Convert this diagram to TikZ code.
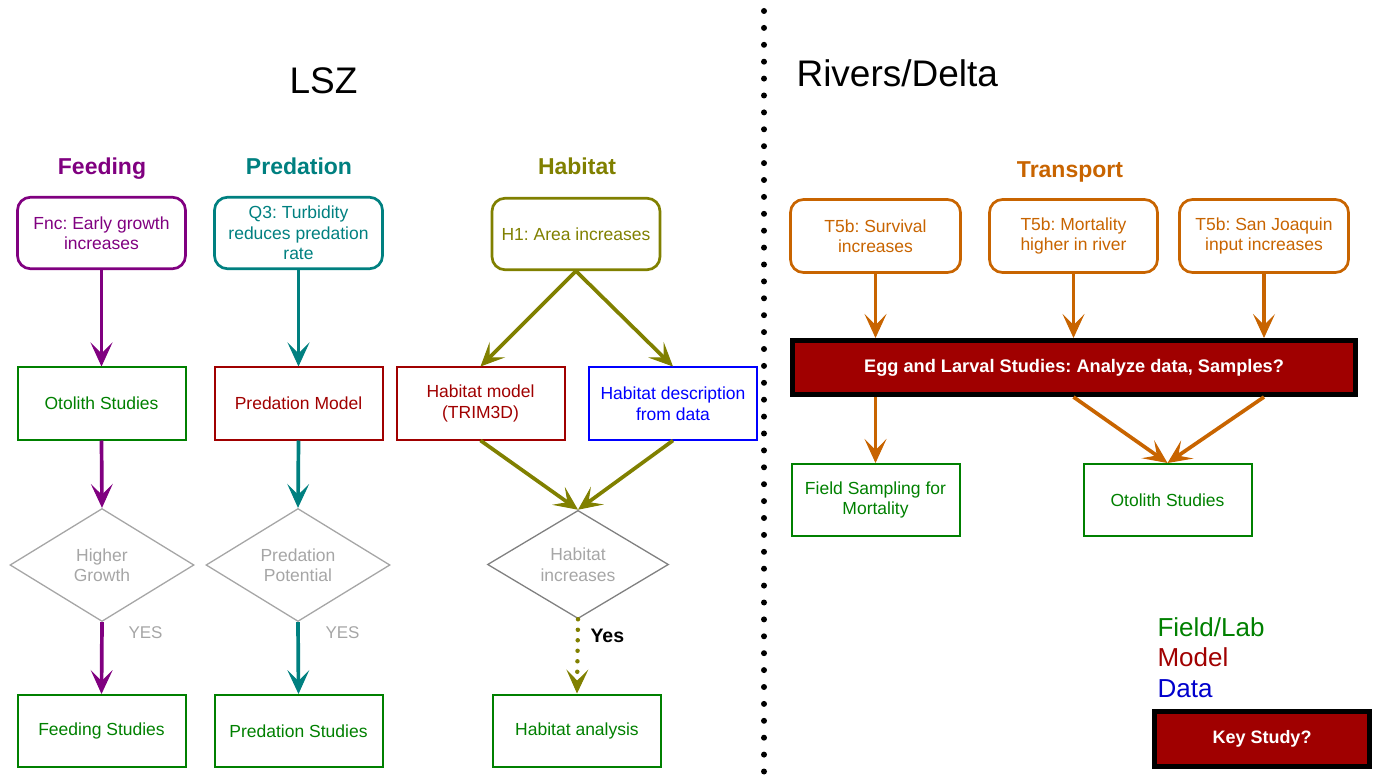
\documentclass[tikz,border=0pt]{standalone}
\usepackage{fontspec}
\setmainfont{Liberation Sans}
\usetikzlibrary{arrows.meta,shapes.geometric}
\frenchspacing

\definecolor{feedc}{RGB}{128,0,128}
\definecolor{predc}{RGB}{0,128,128}
\definecolor{habc}{RGB}{128,128,0}
\definecolor{tranc}{RGB}{200,100,0}
\definecolor{fieldc}{RGB}{0,128,0}
\definecolor{modelc}{RGB}{160,0,0}
\definecolor{datac}{RGB}{0,0,255}
\definecolor{legdata}{RGB}{0,0,204}
\definecolor{keyc}{RGB}{160,0,0}
\definecolor{lgray}{RGB}{166,166,166}
\definecolor{mgray}{RGB}{128,128,128}

\tikzset{
  boxtext/.style={font=\fontsize{17.5}{20.5}\selectfont, align=center},
  question/.style={boxtext, draw=#1, text=#1, line width=2.7pt, rounded corners=13pt,
    minimum width=168pt, minimum height=71.5pt, inner sep=0pt},
  study/.style={boxtext, draw=#1, text=#1, line width=2pt,
    minimum width=168pt, minimum height=72pt, inner sep=0pt},
  decision/.style={boxtext, diamond, draw=#1, line width=1.3pt,
    minimum width=184pt, minimum height=113pt, inner sep=0pt},
  keybox/.style={draw=black, fill=keyc, text=white, line width=5pt, inner sep=0pt},
  flow/.style={line width=3.7pt, draw=#1,
    -{Stealth[length=24pt,width=22pt,inset=11pt,line width=1pt]}},
  heading/.style={font=\bfseries\fontsize{23}{27}\selectfont, anchor=base},
  title/.style={font=\fontsize{37}{44}\selectfont, anchor=base west},
  legend/.style={font=\fontsize{26}{30}\selectfont, anchor=base west},
}

\begin{document}
\begin{tikzpicture}[x=1pt,y=-1pt]
\useasboundingbox (0,0) rectangle (1379,783);

% dotted separator between the two regions
\draw[line width=6pt, line cap=round, dash pattern=on 0pt off 16.9pt] (764,11) -- (764,783);

% titles
\node[title] (lsz) at (286,94) {LSZ};
\node[title] (rivers) at (793,87) {Rivers/Delta};

% ---------------- Feeding ----------------
\node[heading, text=feedc] (feedT) at (102,175) {Feeding};
\node[question=feedc] (fnc) at (101.5,233) {Fnc: Early growth\\increases};
\node[study=fieldc] (oto1) at (101.5,403.5) {Otolith Studies};
\node[decision=lgray, text=lgray] (dia1) at (102,565) {Higher\\Growth};
\node[study=fieldc] (feed) at (101.5,731) {Feeding Studies};
\node[anchor=base west, text=lgray, font=\fontsize{17}{20}\selectfont] (yes1) at (125,638) {YES};
\draw[flow=feedc] (fnc.south) -- (oto1.north);
\draw[flow=feedc] (oto1.south) -- (dia1.north);
\draw[flow=feedc] (dia1.south) -- (feed.north);

% ---------------- Predation ----------------
\node[heading, text=predc] (predT) at (299,175) {Predation};
\node[question=predc] (q3) at (298.5,233) {Q3: Turbidity\\reduces predation\\rate};
\node[study=modelc] (pmod) at (298.5,403.5) {Predation Model};
\node[decision=lgray, text=lgray] (dia2) at (298,565) {Predation\\Potential};
\node[study=fieldc] (pstud) at (298.5,731) {Predation Studies};
\node[anchor=base west, text=lgray, font=\fontsize{17}{20}\selectfont] (yes2) at (322,638) {YES};
\draw[flow=predc] (q3.south) -- (pmod.north);
\draw[flow=predc] (pmod.south) -- (dia2.north);
\draw[flow=predc] (dia2.south) -- (pstud.north);

% ---------------- Habitat ----------------
\node[heading, text=habc] (habT) at (577,175) {Habitat};
\node[question=habc] (h1) at (576,234) {H1: Area increases};
\node[study=modelc] (hmod) at (480.5,403.5) {Habitat model\\(TRIM3D)};
\node[study=datac] (hdesc) at (673,403.5) {Habitat description\\from data};
\node[decision=mgray, text=lgray, minimum width=181pt, minimum height=106pt] (dia3) at (578,564.5) {Habitat\\increases};
\node[study=fieldc] (hana) at (577,730.5) {Habitat analysis};
\node[anchor=base west, font=\bfseries\fontsize{19.5}{23}\selectfont] (yes3) at (587,642) {Yes};
\draw[flow=habc] (h1.south) -- (hmod.north);
\draw[flow=habc] (h1.south) -- (hdesc.north);
\draw[flow=habc] (hmod.south) -- (dia3.north);
\draw[flow=habc] (hdesc.south) -- (dia3.north);
\draw[flow=habc, line width=4.5pt, line cap=round, dash pattern=on 0pt off 10.5pt] (dia3.south) -- (hana.north);

% ---------------- Transport ----------------
\node[heading, text=tranc] (tranT) at (1070,178) {Transport};
\node[question=tranc, minimum width=170pt, minimum height=73pt] (t1) at (875.5,236) {T5b: Survival\\increases};
\node[question=tranc, minimum width=168pt, minimum height=73pt] (t2) at (1073.5,236) {T5b: Mortality\\higher in river};
\node[question=tranc, minimum width=169pt, minimum height=73pt] (t3) at (1264,236) {T5b: San Joaquin\\input increases};
\node[keybox, minimum width=563pt, minimum height=54pt, font=\bfseries\fontsize{18.2}{21}\selectfont] (egg) at (1074,367.5) {Egg and Larval Studies: Analyze data, Samples?};
\node[study=fieldc] (field) at (875.5,500) {Field Sampling for\\Mortality};
\node[study=fieldc] (oto2) at (1167.5,500) {Otolith Studies};
\draw[flow=tranc] (t1.south) -- (t1.south |- egg.north);
\draw[flow=tranc] (t2.south) -- (t2.south |- egg.north);
\draw[flow=tranc] (t3.south) -- (t3.south |- egg.north);
\draw[flow=tranc] (field.north |- egg.south) -- (field.north);
\draw[flow=tranc] (t2.south |- egg.south) -- (oto2.north);
\draw[flow=tranc] (t3.south |- egg.south) -- (oto2.north);

% ---------------- Legend ----------------
\node[legend, text=fieldc] (lfield) at (1154,636) {Field/Lab};
\node[legend, text=modelc] (lmodel) at (1154,666) {Model};
\node[legend, text=legdata] (ldata) at (1154,697) {Data};
\node[keybox, minimum width=215pt, minimum height=55pt, font=\bfseries\fontsize{18}{21}\selectfont] (key) at (1262,739) {Key Study?};
\end{tikzpicture}
\end{document}
